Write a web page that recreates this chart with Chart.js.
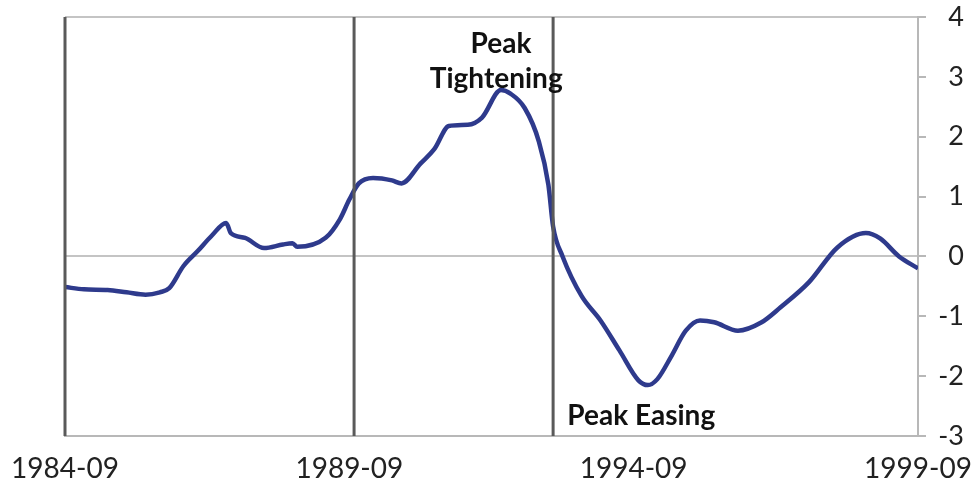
<!DOCTYPE html>
<html>
<head>
<meta charset="utf-8">
<script src="https://cdn.jsdelivr.net/npm/chart.js@4.4.1/dist/chart.umd.min.js"></script>
<style>
  html,body{margin:0;padding:0;background:#fff;}
  #wrap{width:979px;height:496px;position:relative;}
</style>
</head>
<body>
<div id="wrap"><canvas id="chart"></canvas></div>
<script>
// data (monthly dates, value)
const dates = [
  "1984-09","1985-01","1985-06","1985-10","1986-02","1986-05","1986-07","1986-10",
  "1987-01","1987-04","1987-07","1987-08","1987-11","1988-03","1988-07","1988-09",
  "1988-10","1989-04","1989-07","1989-09","1989-11","1990-02","1990-06","1990-08",
  "1990-12","1991-03","1991-06","1991-10","1992-01","1992-05","1992-07","1992-10",
  "1993-01","1993-03","1993-04","1993-06","1993-10","1994-02","1994-06","1994-10",
  "1994-12","1995-02","1995-05","1995-08","1995-11","1996-02","1996-07","1996-12",
  "1997-04","1997-10","1998-04","1998-10","1999-01","1999-05","1999-09"
];
const values = [
  -0.51,-0.55,-0.56,-0.60,-0.64,-0.60,-0.53,-0.16,
   0.09, 0.35, 0.56, 0.39, 0.31, 0.14, 0.20, 0.22,
   0.16, 0.31, 0.62, 0.95, 1.22, 1.31, 1.27, 1.22,
   1.55, 1.80, 2.18, 2.20, 2.32, 2.78, 2.72, 2.48,
   1.92, 1.20, 0.50, 0.00,-0.66,-1.07,-1.57,-2.07,
  -2.15,-2.05,-1.66,-1.24,-1.07,-1.10,-1.24,-1.10,
  -0.85,-0.43, 0.15, 0.39, 0.30, 0.00,-0.20
];
const xTickLabels = ["1984-09","1989-09","1994-09","1999-09"];
const yTicks = [-3,-2,-1,0,1,2,3,4];
const markerDates = ["1984-09","1989-10","1993-04"];
const notes = [
  {text:"Peak", date:"1992-05", value:3.55, align:"center"},
  {text:"Tightening", date:"1992-04", value:2.97, align:"center"},
  {text:"Peak Easing", date:"1993-07", value:-2.67, align:"left"}
];

function monthIndex(s){
  const [y,m]=s.split("-").map(Number);
  return (y-1984)*12+(m-9);
}

const FONT = "Lato, 'Open Sans', sans-serif";

const markers = {
  id:"markers",
  afterDatasetsDraw(chart){
    const {ctx, chartArea:a, scales:{x,y}} = chart;
    ctx.save();
    ctx.strokeStyle="#5a5a5a";
    ctx.lineWidth=3;
    markerDates.forEach(d=>{
      const px=x.getPixelForValue(monthIndex(d));
      ctx.beginPath();
      ctx.moveTo(px,a.top);
      ctx.lineTo(px,a.bottom);
      ctx.stroke();
    });
    ctx.fillStyle="#111";
    ctx.font="bold 28px "+FONT;
    ctx.textBaseline="middle";
    notes.forEach(n=>{
      ctx.textAlign=n.align;
      ctx.fillText(n.text, x.getPixelForValue(monthIndex(n.date)), y.getPixelForValue(n.value));
    });
    ctx.restore();
  }
};

new Chart(document.getElementById("chart"),{
  type:"line",
  data:{
    datasets:[{
      data:dates.map((d,i)=>({x:monthIndex(d), y:values[i]})),
      borderColor:"#2e3a8c",
      borderWidth:4.5,
      pointRadius:0,
      cubicInterpolationMode:"monotone",
      fill:false
    }]
  },
  options:{
    responsive:true,
    maintainAspectRatio:false,
    animation:false,
    layout:{padding:{left:65,top:17,right:15,bottom:0}},
    plugins:{legend:{display:false}, tooltip:{enabled:false}},
    scales:{
      x:{
        type:"linear",
        min:0, max:180,
        afterBuildTicks(s){ s.ticks = xTickLabels.map(l=>({value:monthIndex(l)})); },
        afterFit(s){ s.height=60; s.paddingLeft=0; s.paddingRight=0; },
        ticks:{
          callback:(v)=>xTickLabels.find(l=>monthIndex(l)===v),
          color:"#222", font:{family:FONT, size:28}, padding:16, maxRotation:0, autoSkip:false
        },
        grid:{display:false, drawTicks:false},
        border:{display:true, color:"#b8b8b8", width:2}
      },
      y:{
        position:"right",
        min:-3, max:4,
        afterBuildTicks(s){ s.ticks = yTicks.map(v=>({value:v})); },
        afterFit(s){ s.width=46; s.paddingTop=0; s.paddingBottom=0; },
        ticks:{color:"#222", font:{family:FONT, size:27}, padding:12, crossAlign:"far"},
        grid:{
          color:(c)=> (c.tick && (c.tick.value===0 || c.tick.value===4)) ? "#c4c4c4" : "rgba(0,0,0,0)",
          tickColor:"#b8b8b8",
          tickLength:8,
          lineWidth:2
        },
        border:{display:true, color:"#b8b8b8", width:2}
      }
    }
  },
  plugins:[markers]
});
</script>
</body>
</html>
